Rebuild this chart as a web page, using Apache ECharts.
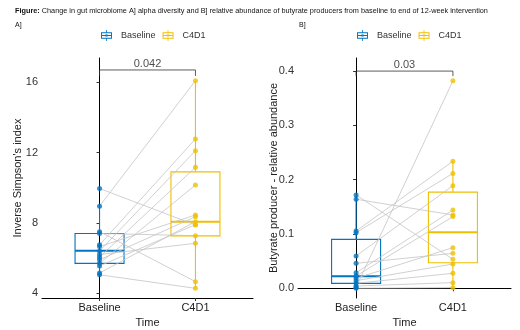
<!DOCTYPE html>
<html>
<head>
<meta charset="utf-8">
<script src="https://cdn.jsdelivr.net/npm/echarts@6/dist/echarts.min.js"></script>
<style>
  html, body { margin: 0; padding: 0; background: #fff; }
  #main { width: 520px; height: 330px; }
</style>
</head>
<body>
<div id="main"></div>
<script>
// categories
const timeLabels = ["Baseline", "C4D1"];
const groupColors = ["#0073C2", "#EFC000"];

// A] inverse Simpson's index, one entry per subject (paired by position)
const simpsonBaseline = [9.95, 8.95, 7.5, 7.4, 6.75, 6.65, 6.4, 6.2, 6.05, 5.9, 5.7, 5.55, 5.15, 5.05];
const simpsonC4D1 = [7.88, 16.08, 4.66, 7.27, 12.77, 8.45, 12.1, 6.84, 11.16, 8.35, 10.15, 7.9, 8.07, 4.28];
// box stats: [lower whisker, Q1, median, Q3, upper whisker]
const simpsonBox = [[5.05, 5.7, 6.42, 7.4, 8.95], [4.28, 7.26, 8.07, 10.9, 16.08]];
const simpsonTicks = [4, 8, 12, 16];
const simpsonP = "0.042";

// B] butyrate producer relative abundance
const butyrateBaseline = [0.172, 0.164, 0.1055, 0.1024, 0.0595, 0.046, 0.0287, 0.0226, 0.0184, 0.014, 0.0092, 0.0042, 0.002, 0.0];
const butyrateC4D1 = [0.0534, 0.135, 0.234, 0.2116, 0.189, 0.0644, 0.144, 0.132, 0.0748, 0.0447, 0.0276, 0.0104, 0.382, 0.0012];
const butyrateBox = [[0.0, 0.009, 0.022, 0.09, 0.172], [0.0012, 0.047, 0.103, 0.177, 0.234]];
const butyrateTicks = [0, 0.1, 0.2, 0.3, 0.4];
const butyrateP = "0.03";

// legend glyph like ggplot's boxplot key
const boxIcon = "path://M6.5,0h1v3h-1Z M0,3h14v1.2h-14Z M0,9.8h14v1.2h-14Z M0,3h1.2v8h-1.2Z M12.8,3h1.2v8h-1.2Z M0,6.4h14v1.2h-14Z M6.5,11h1v3h-1Z M5.6,5.6h2.8v2.8h-2.8Z";

let chart = echarts.init(document.getElementById("main"));

function renderBox(params, api) {
  let x = api.value(0);
  let pMin = api.coord([x, api.value(1)]);
  let pQ1 = api.coord([x, api.value(2)]);
  let pMed = api.coord([x, api.value(3)]);
  let pQ3 = api.coord([x, api.value(4)]);
  let pMax = api.coord([x, api.value(5)]);
  let hw = 24.5;
  let color = api.visual("color");
  return {
    type: "group",
    children: [
      { type: "line", shape: { x1: pMin[0], y1: pMin[1], x2: pQ1[0], y2: pQ1[1] }, style: { stroke: color, lineWidth: 1.1 } },
      { type: "line", shape: { x1: pQ3[0], y1: pQ3[1], x2: pMax[0], y2: pMax[1] }, style: { stroke: color, lineWidth: 1.1 } },
      { type: "rect", shape: { x: pQ3[0] - hw, y: pQ3[1], width: hw * 2, height: pQ1[1] - pQ3[1] }, style: { fill: "rgba(255,255,255,0)", stroke: color, lineWidth: 1.1 } },
      { type: "line", shape: { x1: pMed[0] - hw, y1: pMed[1], x2: pMed[0] + hw, y2: pMed[1] }, style: { stroke: color, lineWidth: 2 } }
    ]
  };
}

function panelSeries(idx, base, c4d1, box, bracket, pText) {
  let out = [];
  // boxes
  timeLabels.forEach(function (name, g) {
    out.push({
      name: name,
      type: "custom",
      xAxisIndex: idx,
      yAxisIndex: idx,
      renderItem: renderBox,
      itemStyle: { color: groupColors[g] },
      encode: { x: 0, y: [1, 2, 3, 4, 5] },
      data: [[g].concat(box[g])],
      z: 2,
      silent: true
    });
  });
  // paired lines
  base.forEach(function (v, i) {
    out.push({
      type: "line",
      xAxisIndex: idx,
      yAxisIndex: idx,
      data: [[0, v], [1, c4d1[i]]],
      symbol: "none",
      lineStyle: { color: "#c4c4c4", width: 0.8 },
      z: 3,
      silent: true
    });
  });
  // points
  [base, c4d1].forEach(function (vals, g) {
    out.push({
      name: timeLabels[g],
      type: "scatter",
      xAxisIndex: idx,
      yAxisIndex: idx,
      data: vals.map(function (v) { return [g, v]; }),
      symbolSize: 5,
      itemStyle: { color: groupColors[g] },
      z: 4
    });
  });
  // significance bracket
  out.push({
    type: "line",
    xAxisIndex: idx,
    yAxisIndex: idx,
    data: [[0, bracket[0]], [0, bracket[1]], [1, bracket[1]], [1, bracket[0]]],
    symbol: "none",
    lineStyle: { color: "#333", width: 0.8 },
    z: 5,
    silent: true
  });
  out.push({
    type: "scatter",
    xAxisIndex: idx,
    yAxisIndex: idx,
    data: [[0.5, bracket[2]]],
    symbolSize: 0,
    label: { show: true, position: "inside", formatter: pText, color: "#222", fontSize: 11, fontFamily: "Liberation Sans" },
    z: 5,
    silent: true
  });
  return out;
}

function xAxisFor(idx) {
  return {
    type: "value",
    gridIndex: idx,
    min: -0.6,
    max: 1.6,
    name: "Time",
    nameLocation: "middle",
    nameGap: 19,
    nameTextStyle: { color: "#222", fontSize: 11, fontFamily: "Liberation Sans" },
    splitLine: { show: false },
    axisLine: { lineStyle: { color: "#000", width: 1 } },
    axisTick: { customValues: [0, 1], length: 3, lineStyle: { color: "#333" } },
    axisLabel: {
      customValues: [0, 1],
      formatter: function (v) { return timeLabels[Math.round(v)]; },
      color: "#222",
      fontSize: 11,
      fontFamily: "Liberation Sans",
      margin: 4
    }
  };
}

function yAxisFor(idx, min, max, ticks, name, digits, gap) {
  return {
    type: "value",
    gridIndex: idx,
    min: min,
    max: max,
    name: name,
    nameLocation: "middle",
    nameGap: gap,
    nameMoveOverlap: false,
    nameTextStyle: { color: "#222", fontSize: 11, fontFamily: "Liberation Sans" },
    splitLine: { show: false },
    axisLine: { show: true, lineStyle: { color: "#000", width: 1 } },
    axisTick: { show: true, customValues: ticks, length: 3, lineStyle: { color: "#333" } },
    axisLabel: {
      customValues: ticks,
      formatter: function (v) { return v.toFixed(digits); },
      color: "#333",
      fontSize: 11,
      fontFamily: "Liberation Sans",
      margin: 4
    }
  };
}

let legendData = timeLabels.map(function (n) { return { name: n, icon: boxIcon }; });
let legendText = { color: "#333", fontSize: 9, fontFamily: "Liberation Sans", padding: [0, 0, 0, 4] };

let option = {
  animation: false,
  backgroundColor: "#fff",
  title: [
    {
      text: "{b|Figure:} Change in gut microbiome A] alpha diversity and B] relative abundance of butyrate producers from baseline to end of 12-week intervention",
      left: 10,
      top: 2,
      textStyle: {
        fontSize: 7.3,
        fontWeight: "normal",
        color: "#111",
        fontFamily: "Liberation Sans",
        rich: { b: { fontSize: 7.3, fontWeight: "bold", color: "#111", fontFamily: "Liberation Sans" } }
      }
    },
    { text: "A]", left: 10, top: 17, textStyle: { fontSize: 7, fontWeight: "normal", color: "#111", fontFamily: "Liberation Sans" } },
    { text: "B]", left: 294, top: 17, textStyle: { fontSize: 7, fontWeight: "normal", color: "#111", fontFamily: "Liberation Sans" } }
  ],
  legend: [
    { data: legendData, left: 96, top: 25, itemWidth: 11, itemHeight: 11, itemGap: 7, textStyle: legendText, selectedMode: false },
    { data: legendData, left: 352, top: 25, itemWidth: 11, itemHeight: 11, itemGap: 7, textStyle: legendText, selectedMode: false }
  ],
  grid: [
    { left: 42, top: 58, width: 211, height: 240, outerBoundsMode: "none" },
    { left: 298, top: 58, width: 213, height: 240, outerBoundsMode: "none" }
  ],
  xAxis: [xAxisFor(0), xAxisFor(1)],
  yAxis: [
    yAxisFor(0, 3.73, 17.37, simpsonTicks, "Inverse Simpson's index", 0, 19),
    yAxisFor(1, -0.0179, 0.4241, butyrateTicks, "Butyrate producer - relative abundance", 1, 19)
  ],
  series: panelSeries(0, simpsonBaseline, simpsonC4D1, simpsonBox, [16.35, 16.69, 17.01], simpsonP)
    .concat(panelSeries(1, butyrateBaseline, butyrateC4D1, butyrateBox, [0.3907, 0.40, 0.411], butyrateP))
};
chart.setOption(option);
</script>
</body>
</html>
